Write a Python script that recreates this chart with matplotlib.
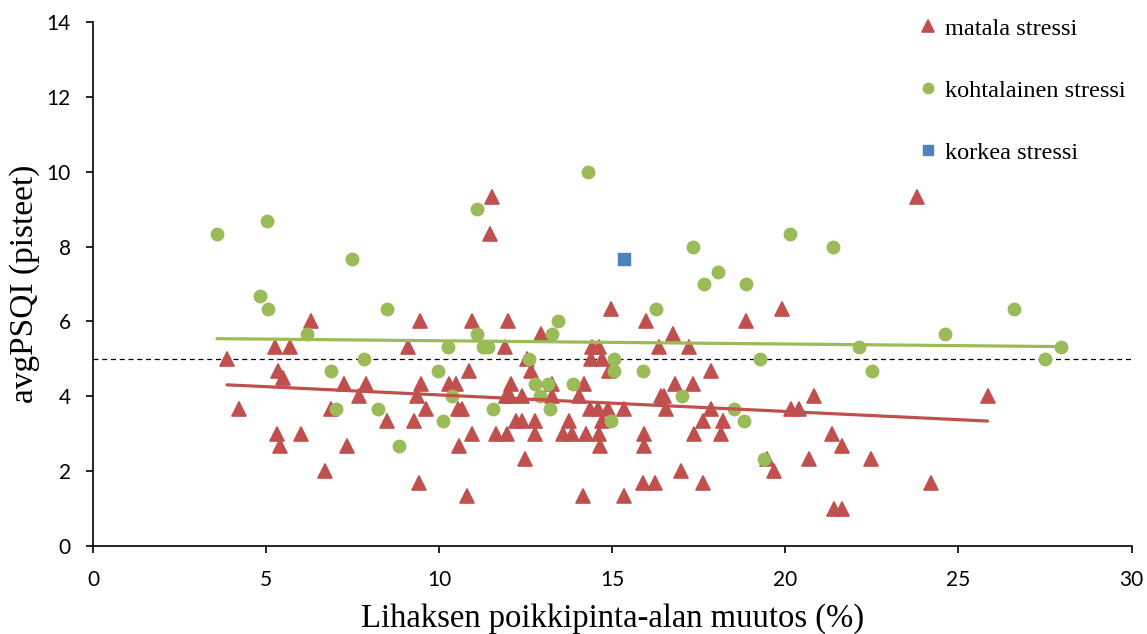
import numpy as np
import matplotlib.pyplot as plt
from matplotlib.markers import MarkerStyle

# lihaksen poikkipinta-alan muutos (%) ja avgPSQI ryhmittäin
matala_x = [3.87, 4.22, 5.26, 5.69, 5.35, 5.49, 5.32, 5.40, 6.01, 6.30,
            6.70, 6.88, 7.25, 7.89, 7.69, 7.34, 8.50, 9.10, 9.45, 9.47,
            9.36, 9.62, 9.28, 9.42, 10.27, 10.50, 10.55, 10.66, 10.87, 10.95,
            10.95, 10.58, 10.80, 11.47, 11.53, 11.65, 11.97, 11.99, 11.90, 11.92,
            12.05, 12.08, 12.40, 12.22, 12.40, 12.49, 12.77, 12.77, 12.66, 12.95,
            12.54, 13.27, 13.27, 13.76, 13.58, 13.84, 14.04, 14.19, 14.25, 14.16,
            14.36, 14.59, 14.88, 14.63, 14.65, 14.71, 14.42, 14.62, 14.39, 14.71,
            14.91, 14.97, 15.35, 15.35, 15.98, 16.36, 16.76, 17.23, 15.93, 15.93,
            15.90, 16.24, 16.40, 16.50, 16.56, 16.82, 16.99, 17.34, 17.37, 17.63,
            17.63, 17.86, 17.86, 18.21, 18.15, 18.87, 19.91, 20.84, 20.17, 20.40,
            21.36, 21.65, 20.67, 19.48, 19.68, 22.46, 21.40, 21.64, 23.79, 24.22,
            25.84]
matala_y = [5.00, 3.67, 5.33, 5.33, 4.67, 4.50, 3.00, 2.67, 3.00, 6.00,
            2.00, 3.67, 4.33, 4.33, 4.00, 2.67, 3.33, 5.33, 6.00, 4.33,
            4.00, 3.67, 3.33, 1.67, 4.33, 4.33, 3.67, 3.67, 4.67, 6.00,
            3.00, 2.67, 1.33, 8.33, 9.33, 3.00, 3.00, 6.00, 5.33, 4.00,
            4.00, 4.33, 4.00, 3.33, 3.33, 2.33, 3.33, 3.00, 4.67, 5.67,
            5.00, 4.33, 4.00, 3.33, 3.00, 3.00, 4.00, 4.33, 3.00, 1.33,
            3.67, 3.67, 3.67, 3.00, 2.67, 3.33, 5.33, 5.33, 5.00, 5.00,
            4.67, 6.33, 3.67, 1.33, 6.00, 5.33, 5.67, 5.33, 3.00, 2.67,
            1.67, 1.67, 4.00, 4.00, 3.67, 4.33, 2.00, 4.33, 3.00, 3.33,
            1.67, 4.67, 3.67, 3.33, 3.00, 6.00, 6.33, 4.00, 3.67, 3.67,
            3.00, 2.67, 2.33, 2.33, 2.00, 2.33, 1.00, 1.00, 9.33, 1.67,
            4.00]

kohtalainen_x = [3.58, 5.03, 4.83, 5.06, 6.19, 7.49, 8.50, 7.84, 6.88, 7.02,
                 8.24, 8.84, 10.26, 11.10, 11.27, 11.42, 9.97, 10.38, 10.11, 11.56,
                 11.10, 12.60, 12.77, 13.15, 12.92, 13.20, 13.87, 13.44, 13.27, 14.30,
                 14.97, 15.06, 15.06, 15.90, 16.25, 17.00, 17.34, 17.66, 18.06, 18.87,
                 18.53, 18.81, 19.28, 19.37, 20.14, 21.39, 22.14, 22.49, 24.60, 26.60,
                 27.50, 27.95]
kohtalainen_y = [8.33, 8.67, 6.67, 6.33, 5.67, 7.67, 6.33, 5.00, 4.67, 3.67,
                 3.67, 2.67, 5.33, 5.67, 5.33, 5.33, 4.67, 4.00, 3.33, 3.67,
                 9.00, 5.00, 4.33, 4.33, 4.00, 3.67, 4.33, 6.00, 5.67, 10.00,
                 3.33, 5.00, 4.67, 4.67, 6.33, 4.00, 8.00, 7.00, 7.33, 7.00,
                 3.67, 3.33, 5.00, 2.33, 8.33, 8.00, 5.33, 4.67, 5.67, 6.33,
                 5.00, 5.33]

korkea_x = [15.35]
korkea_y = [7.67]

raja = 5.0

red = "#C0504D"
green = "#9BBB59"
blue = "#4F81BD"

fig = plt.figure(figsize=(11.47, 6.34), dpi=100)
ax = fig.add_axes([0.0811, 0.1388, 0.9054, 0.8265])

tri = MarkerStyle("^", joinstyle="round")
ax.plot(matala_x, matala_y, linestyle="none", marker=tri, ms=10,
        color=red, mec=red, mew=1.2, label="matala stressi", zorder=3)
ax.plot(kohtalainen_x, kohtalainen_y, linestyle="none", marker="o", ms=10,
        color=green, mec=green, mew=0, label="kohtalainen stressi", zorder=4)
ax.plot(korkea_x, korkea_y, linestyle="none", marker=MarkerStyle("s", joinstyle="round"),
        ms=8.5, color=blue, mec=blue, mew=1, label="korkea stressi", zorder=5)

# lineaariset trendiviivat
for xs, ys, c in [(matala_x, matala_y, red), (kohtalainen_x, kohtalainen_y, green)]:
    k, b = np.polyfit(xs, ys, 1)
    xx = np.array([min(xs), max(xs)])
    ax.plot(xx, k * xx + b, color=c, lw=2.3, solid_capstyle="round", zorder=6)

ax.plot([0, 30], [raja, raja], color="black", lw=0.9, dashes=(4, 3), zorder=2)

ax.set_xlim(0, 30)
ax.set_ylim(0, 14)
ax.set_xticks(range(0, 31, 5))
ax.set_yticks(range(0, 15, 2))
for s in ["top", "right"]:
    ax.spines[s].set_visible(False)
for s in ["left", "bottom"]:
    ax.spines[s].set_linewidth(1.2)
ax.tick_params(direction="out", length=5, width=1.2, labelsize=15)
ax.tick_params(axis="x", pad=12)
ax.tick_params(axis="y", pad=11)
for lab in ax.get_xticklabels() + ax.get_yticklabels():
    lab.set_family(["Lato", "DejaVu Sans"])

ax.set_xlabel("Lihaksen poikkipinta-alan muutos (%)", family="Liberation Serif",
              fontsize=23.5, labelpad=10)
ax.set_ylabel("avgPSQI (pisteet)", family="Liberation Serif", fontsize=24, labelpad=5)

leg = ax.legend(loc="upper right", bbox_to_anchor=(1.015, 1.05), frameon=False,
                prop={"family": "Liberation Serif", "size": 17.5}, labelspacing=1.65,
                handlelength=0.6, handletextpad=0.4, markerscale=0.85)

fig.savefig("out.png", dpi=100)
